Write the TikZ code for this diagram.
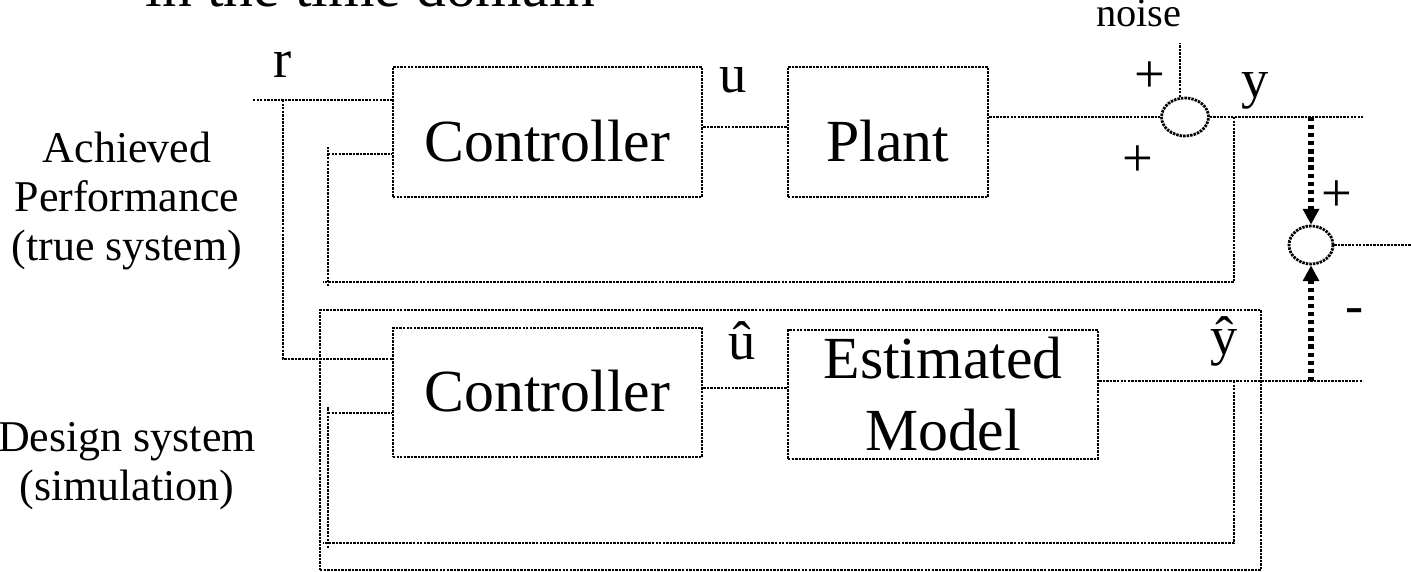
\documentclass[tikz,border=0pt]{standalone}
\usepackage{fontspec}
\setmainfont{Liberation Serif}
\usetikzlibrary{positioning,shapes.geometric,arrows.meta}

\tikzset{
  sig/.style={line width=0.8pt, dash pattern=on 0.7pt off 0.3pt},
  blk/.style={sig, draw, rectangle, inner sep=0pt, align=center,
    font=\fontsize{17}{20.5}\selectfont},
  sumpt/.style={sig, draw, ellipse, inner sep=0pt},
  meas/.style={line width=1.7pt, dash pattern=on 1.2pt off 1.1pt,
    -{Triangle[length=4.5pt,width=4.5pt]}},
  lbl/.style={font=\fontsize{15.5}{18}\selectfont, inner sep=0pt, anchor=base},
  side/.style={font=\fontsize{12.5}{14}\selectfont, align=center, inner sep=0pt}
}

\begin{document}
\begin{tikzpicture}[x=0.1mm,y=-0.1mm]
  \useasboundingbox (0,0) rectangle (1411,572);
  \node[anchor=base west, inner sep=0pt, font=\fontsize{17}{20}\selectfont] (title) at (145,7) {in the time domain};

  % true system
  \node[blk, minimum width=30.9mm, minimum height=13mm, text height=17pt, text depth=0pt] (ctrl) at (547.5,132) {Controller};
  \node[blk, minimum width=20mm, minimum height=13mm, text height=17pt, text depth=0pt] (plant) at (888,132) {Plant};
  \node[sumpt, minimum width=4.7mm, minimum height=3.8mm] (sum1) at (1185,117) {};

  % design system
  \node[sig, draw, inner sep=0pt, minimum width=94.1mm, minimum height=26mm] (design) at (790.5,440) {};
  \node[blk, minimum width=30.9mm, minimum height=12.9mm, text height=11pt, text depth=0pt] (ctrlhat) at (547.5,392.5) {Controller};
  \node[blk, minimum width=31mm, minimum height=12.9mm] (model) at (943,394.5) {Estimated\\Model};

  \node[sumpt, minimum width=4.4mm, minimum height=3.8mm] (sum2) at (1311,245) {};

  \coordinate (rin) at (253,100);
  \coordinate (rsplit) at (283,100);
  \coordinate (rlow) at (283,359);
  \coordinate (yout) at (1363,117);
  \coordinate (ytap) at (1234,117);
  \coordinate (yhout) at (1363,381);
  \coordinate (yhtap) at (1234,381);
  \coordinate (eout) at (1411,245);
  \coordinate (fa) at (328,154);
  \coordinate (fb) at (328,413);

  \draw[sig] (rin) -- (rin -| ctrl.west);
  \draw[sig] (rsplit) -- (rlow) -- (rlow -| ctrlhat.west);
  \draw[sig] (ctrl.east |- 0,127) -- (plant.west |- 0,127);
  \draw[sig] (plant.east |- sum1) -- (sum1.west);
  \draw[sig] (sum1.104) -- (sum1.104 |- 0,43);
  \draw[sig] (sum1.east) -- (yout);

  \draw[sig] (ytap) |- (323,282);
  \draw[sig] (328,286) -- (328,147);
  \draw[sig] (fa) -- (fa -| ctrl.west);

  \draw[sig] (ctrlhat.east |- 0,388) -- (model.west |- 0,388);
  \draw[sig] (model.east |- yhout) -- (yhout);
  \draw[sig] (yhtap) |- (323,543);
  \draw[sig] (328,548) -- (328,407);
  \draw[sig] (fb) -- (fb -| ctrlhat.west);

  \draw[meas] (sum2.north |- yout) -- (sum2.north);
  \draw[meas] (sum2.south |- yhout) -- (sum2.south);
  \draw[sig] (sum2.east) -- (eout);

  \node[lbl] (rlab) at (283,78) {r};
  \node[lbl] (ulab) at (733,93) {u};
  \node[lbl] (ylab) at (1255,98) {y};
  \node[lbl] (uhlab) at (742,360) {û};
  \node[lbl] (yhlab) at (1224,355) {ŷ};
  \node[inner sep=0pt, anchor=base east, font=\fontsize{11.5}{13}\selectfont] (noise) at (1182,27) {noise};
  \node[lbl] (p1) at (1150,93) {+};
  \node[lbl] (p2) at (1138,177) {+};
  \node[lbl] (p3) at (1337,212) {+};
  \node[lbl] (m1) at (1355,324) {-};

  \node[side] (truesys) at (127,201) {Achieved\\Performance\\(true system)};
  \node[side] (designsys) at (127,466) {Design system\\(simulation)};
\end{tikzpicture}
\end{document}
